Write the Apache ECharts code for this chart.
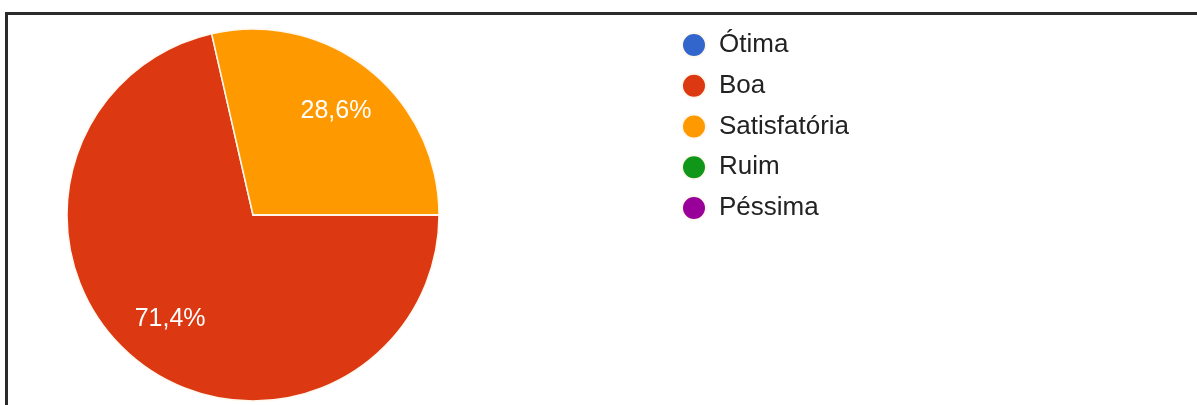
<!DOCTYPE html>
<html>
<head>
<meta charset="utf-8">
<script src="https://cdn.jsdelivr.net/npm/echarts@6/dist/echarts.min.js"></script>
<style>
  html, body { margin: 0; padding: 0; background: #fff; }
  #wrap { position: relative; width: 1197px; height: 405px; overflow: hidden; }
  #chart { position: absolute; left: 0; top: 0; width: 1197px; height: 405px; }
  #frame { position: absolute; left: 5px; top: 12px; width: 1300px; height: 500px;
           border-top: 3px solid #2b2b2b; border-left: 3px solid #2b2b2b; pointer-events: none; }
</style>
</head>
<body>
<div id="wrap">
  <div id="chart"></div>
  <div id="frame"></div>
</div>
<script>
const categories = ['Ótima', 'Boa', 'Satisfatória', 'Ruim', 'Péssima'];
const counts = [0, 5, 2, 0, 0];
const colors = ['#3366CC', '#DC3912', '#FF9900', '#109618', '#990099'];

const total = counts.reduce((a, b) => a + b, 0);
const data = categories.map((c, i) => ({ name: c, value: counts[i] }));

function pctLabel(p) {
  if (!p.value) return '';
  return (p.value / total * 100).toFixed(1).replace('.', ',') + '%';
}

const chart = echarts.init(document.getElementById('chart'), null, { renderer: 'canvas' });
chart.setOption({
  animation: false,
  color: colors,
  legend: {
    orient: 'vertical',
    left: 676,
    top: 27,
    icon: 'circle',
    itemWidth: 40,
    itemHeight: 24,
    itemGap: 14.75,
    selectedMode: false,
    textStyle: { fontFamily: 'Liberation Sans, Arial, sans-serif', fontSize: 26, lineHeight: 26, color: '#222' },
    data: categories
  },
  series: [
    {
      type: 'pie',
      center: [253, 215],
      radius: [0, 186],
      startAngle: 0,
      clockwise: true,
      stillShowZeroSum: false,
      label: { show: false },
      labelLine: { show: false },
      emphasis: { disabled: true },
      itemStyle: { borderColor: '#fff8ee', borderWidth: 1.5 },
      data: data
    },
    {
      type: 'pie',
      center: [253, 215],
      radius: [74, 186],
      startAngle: 0,
      clockwise: true,
      silent: true,
      z: 3,
      itemStyle: { color: 'rgba(0,0,0,0)', borderWidth: 0 },
      emphasis: { disabled: true },
      labelLine: { show: false },
      label: {
        show: true,
        position: 'inside',
        formatter: pctLabel,
        color: '#fff',
        fontFamily: 'Liberation Sans, Arial, sans-serif',
        fontSize: 25,
        fontWeight: 'normal'
      },
      data: data
    }
  ]
});
</script>
</body>
</html>
